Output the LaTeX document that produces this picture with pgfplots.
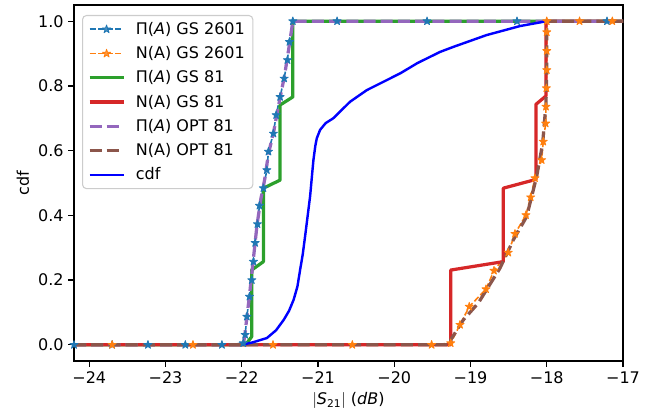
\documentclass[border=0pt]{standalone}
\usepackage{fontspec}
\setmainfont{DejaVu Sans}
\usepackage{pgfplots}
\pgfplotsset{compat=1.18}
\usetikzlibrary{plotmarks}
\definecolor{C0}{HTML}{1F77B4}
\definecolor{C1}{HTML}{FF7F0E}
\definecolor{C2}{HTML}{2CA02C}
\definecolor{C3}{HTML}{D62728}
\definecolor{C4}{HTML}{9467BD}
\definecolor{C5}{HTML}{8C564B}
\definecolor{legframe}{HTML}{CCCCCC}
\pgfdeclareplotmark{mstar}{%
  \pgfpathmoveto{\pgfpointpolar{90}{\pgfplotmarksize}}%
  \pgfpathlineto{\pgfpointpolar{126}{0.382\pgfplotmarksize}}%
  \pgfpathlineto{\pgfpointpolar{162}{\pgfplotmarksize}}%
  \pgfpathlineto{\pgfpointpolar{198}{0.382\pgfplotmarksize}}%
  \pgfpathlineto{\pgfpointpolar{234}{\pgfplotmarksize}}%
  \pgfpathlineto{\pgfpointpolar{270}{0.382\pgfplotmarksize}}%
  \pgfpathlineto{\pgfpointpolar{306}{\pgfplotmarksize}}%
  \pgfpathlineto{\pgfpointpolar{342}{0.382\pgfplotmarksize}}%
  \pgfpathlineto{\pgfpointpolar{18}{\pgfplotmarksize}}%
  \pgfpathlineto{\pgfpointpolar{54}{0.382\pgfplotmarksize}}%
  \pgfpathclose\pgfusepathqfillstroke}
\begin{document}
\begin{tikzpicture}[font=\fontsize{12}{14.4}\selectfont]
\path (-55.5pt,-40.5pt) rectangle (435.75pt,270.75pt);
\begin{axis}[
  at={(0,0)}, anchor=south west, scale only axis,
  width=411.75pt, height=267pt,
  xmin=-24.2, xmax=-17, ymin=-0.05, ymax=1.05,
  xtick={-24,-23,-22,-21,-20,-19,-18,-17},
  xticklabels={−24,−23,−22,−21,−20,−19,−18,−17},
  ytick={0,0.2,0.4,0.6,0.8,1},
  yticklabels={0.0,0.2,0.4,0.6,0.8,1.0},
  tick align=outside, xtick pos=left, ytick pos=left,
  major tick length=4.25pt,
  tick style={black, line width=0.97pt},
  axis line style={line width=0.97pt},
  xlabel={$|$\textit{S}\textsubscript{21}$|$ (\textit{dB})},
  ylabel={cdf},
  legend cell align=left,
  legend style={at={(0.0146,0.972)}, anchor=north west, draw=legframe, rounded corners=3pt,
    fill=white, fill opacity=0.8, text opacity=1, row sep=3.6pt, inner xsep=4pt, inner ysep=3pt, line width=0.8pt,
    /tikz/every odd column/.append style={column sep=6pt}},
  legend image code/.code={\draw[mark repeat=2,mark phase=2] plot coordinates {(0cm,0cm) (0.45cm,0cm) (0.9cm,0cm)};},
  every axis plot/.append style={line join=round},
]
% Pi(A) GS 2601
\addplot[color=C0, draw=C0, line width=1.2pt, dash pattern=on 4.5pt off 1.95pt, mark=mstar, mark size=3.2pt, mark options={solid, fill=C0, draw=C0, line width=0.6pt}] coordinates {
(-24.2,0) (-23.70,0) (-23.23,0) (-22.74,0) (-22.26,0) (-21.98,0.005) (-21.955,0.031) (-21.933,0.087) (-21.899,0.149) (-21.868,0.200) (-21.847,0.257) (-21.824,0.315) (-21.794,0.373) (-21.768,0.430) (-21.716,0.484) (-21.671,0.540) (-21.650,0.597) (-21.585,0.653) (-21.549,0.710) (-21.497,0.766) (-21.444,0.823) (-21.401,0.880) (-21.375,0.936) (-21.33,1.0) (-20.75,1) (-19.57,1) (-18.39,1) (-17.21,1)};
\addlegendentry{Π(\textit{A}) GS 2601}
\addplot[C0, line width=1.2pt, dash pattern=on 4.5pt off 1.95pt, forget plot] coordinates {(-17.21,1) (-17,1)};
% N(A) GS 2601
\addplot[C1, line width=1.2pt, dash pattern=on 4.5pt off 1.95pt, forget plot] coordinates {(-24.2,0) (-23.70,0)};
\addplot[color=C1, draw=C1, line width=1.2pt, dash pattern=on 4.5pt off 1.95pt, mark=mstar, mark size=3.2pt, mark options={solid, fill=C1, draw=C1, line width=0.6pt}] coordinates {
(-23.70,0) (-22.64,0) (-21.59,0) (-20.55,0) (-19.51,0) (-19.26,0.005) (-19.138,0.062) (-19.016,0.118) (-18.797,0.172) (-18.692,0.229) (-18.505,0.285) (-18.417,0.343) (-18.273,0.401) (-18.211,0.456) (-18.155,0.515) (-18.067,0.571) (-18.046,0.628) (-18.014,0.684) (-18.01,0.736) (-18.005,0.793) (-18.0,0.849) (-18.0,0.908) (-18.0,0.966) (-18.0,1.0) (-17.57,1) (-17.14,1)};
\addlegendentry{N(A) GS 2601}
\addplot[C1, line width=1.2pt, dash pattern=on 4.5pt off 1.95pt, forget plot] coordinates {(-17.14,1) (-17,1)};
% Pi(A) GS 81
\addplot[C2, line width=2.43pt] coordinates {
(-24.2,0) (-21.95,0) (-21.87,0.025) (-21.87,0.231) (-21.716,0.257) (-21.716,0.484) (-21.497,0.509) (-21.497,0.741) (-21.33,0.766) (-21.33,1.0) (-17,1)};
\addlegendentry{Π(\textit{A}) GS 81}
% N(A) GS 81
\addplot[C3, line width=2.43pt] coordinates {
(-24.2,0) (-19.26,0) (-19.26,0.231) (-18.57,0.257) (-18.57,0.484) (-18.142,0.511) (-18.142,0.743) (-18.01,0.769) (-18.01,1.0) (-17,1)};
\addlegendentry{N(A) GS 81}
% Pi(A) OPT 81
\addplot[C4, line width=2.43pt, dash pattern=on 9pt off 3.9pt] coordinates {
(-24.2,0) (-21.98,0) (-21.96,0.03) (-21.93,0.09) (-21.90,0.15) (-21.85,0.26) (-21.80,0.37) (-21.75,0.45) (-21.70,0.51) (-21.65,0.59) (-21.58,0.66) (-21.50,0.76) (-21.44,0.83) (-21.38,0.92) (-21.33,1.0) (-17,1)};
\addlegendentry{Π(\textit{A}) OPT 81}
% N(A) OPT 81
\addplot[C5, line width=2.43pt, dash pattern=on 9pt off 3.9pt] coordinates {
(-24.2,0) (-19.26,0) (-19.26,0.015) (-19.094,0.077) (-18.898,0.129) (-18.613,0.237) (-18.439,0.324) (-18.264,0.396) (-18.133,0.519) (-18.054,0.622) (-18.01,0.746) (-18.0,0.85) (-18.0,1.0) (-17,1)};
\addlegendentry{N(A) OPT 81}
% cdf
\addplot[blue, line width=1.82pt] coordinates {
(-22.0,0.0) (-21.85,0.008) (-21.67,0.021) (-21.55,0.045) (-21.45,0.077) (-21.38,0.105) (-21.32,0.139) (-21.27,0.18) (-21.235,0.231) (-21.20,0.28) (-21.17,0.334) (-21.135,0.40) (-21.104,0.458) (-21.08,0.52) (-21.06,0.571) (-21.035,0.615) (-21.016,0.638) (-20.973,0.664) (-20.90,0.685) (-20.80,0.70) (-20.58,0.751) (-20.36,0.787) (-20.14,0.813) (-19.92,0.839) (-19.70,0.870) (-19.40,0.905) (-19.22,0.921) (-18.79,0.957) (-18.35,0.985) (-18.0,1.0)};
\addlegendentry{cdf}
\end{axis}
\end{tikzpicture}
\end{document}
